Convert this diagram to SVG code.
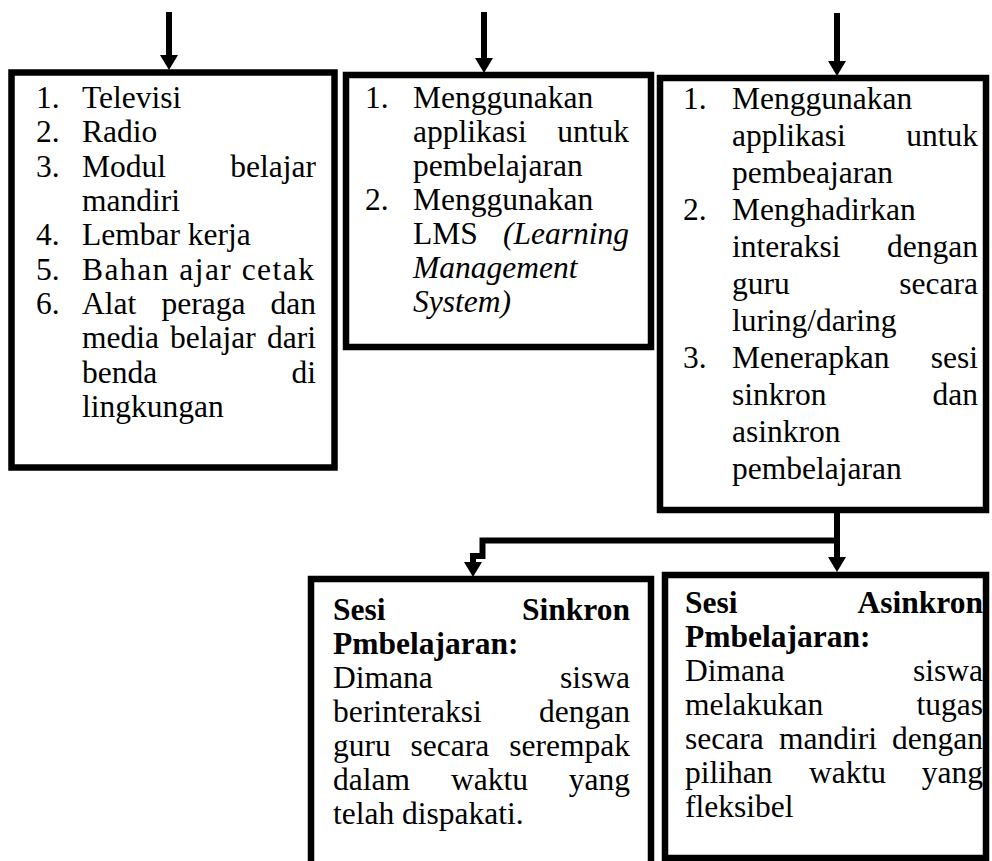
<svg xmlns="http://www.w3.org/2000/svg" width="992" height="861" viewBox="0 0 992 861">
<style>
.bx{fill:#fff;stroke:#000;stroke-width:6.5}
.t{font-family:"Liberation Serif","Times New Roman",serif;font-size:31.5px;fill:#000}
.b{font-weight:bold}
.i{font-style:italic}
.e{text-anchor:end}
.c{fill:none;stroke:#000;stroke-width:6}
</style>
<defs>
<marker id="ah" viewBox="0 0 15 18" markerWidth="15" markerHeight="18" refX="1" refY="9" orient="auto" markerUnits="userSpaceOnUse">
<path d="M0,0 L15,9 L0,18 z" fill="#000"/>
</marker>
</defs>
<rect width="992" height="861" fill="#fff"/>

<g id="box1">
<rect class="bx" x="11.5" y="72.5" width="323" height="395"/>
<g class="t">
<text x="36" y="108">1.</text><text x="82" y="108">Televisi</text>
<text x="36" y="142">2.</text><text x="82" y="142">Radio</text>
<text x="36" y="176.5">3.</text><text x="82" y="176.5">Modul</text><text x="316" y="176.5" class="e">belajar</text>
<text x="82" y="211">mandiri</text>
<text x="36" y="245">4.</text><text x="82" y="245">Lembar kerja</text>
<text x="36" y="279.5">5.</text><text x="82" y="279.5" textLength="232" lengthAdjust="spacing">Bahan ajar cetak</text>
<text x="36" y="314">6.</text><text x="82" y="314">Alat</text><text x="161.5" y="314">peraga</text><text x="316" y="314" class="e">dan</text>
<text x="82" y="348">media</text><text x="170" y="348">belajar</text><text x="316" y="348" class="e">dari</text>
<text x="82" y="382.5">benda</text><text x="316" y="382.5" class="e">di</text>
<text x="82" y="417">lingkungan</text>
</g>
</g>

<g id="box2">
<rect class="bx" x="346" y="75" width="305" height="272"/>
<g class="t">
<text x="365" y="108">1.</text><text x="413" y="108">Menggunakan</text>
<text x="413" y="142">applikasi</text><text x="629" y="142" class="e">untuk</text>
<text x="413" y="176">pembelajaran</text>
<text x="365" y="210">2.</text><text x="413" y="210">Menggunakan</text>
<text x="413" y="244">LMS</text><text x="629" y="244" class="e i">(Learning</text>
<text x="413" y="278" class="i">Management</text>
<text x="413" y="312" class="i">System)</text>
</g>
</g>

<g id="box3">
<rect class="bx" x="660" y="78" width="326" height="432"/>
<g class="t">
<text x="683" y="109">1.</text><text x="732" y="109">Menggunakan</text>
<text x="732" y="146">applikasi</text><text x="978" y="146" class="e">untuk</text>
<text x="732" y="183">pembeajaran</text>
<text x="683" y="220">2.</text><text x="732" y="220">Menghadirkan</text>
<text x="732" y="257">interaksi</text><text x="978" y="257" class="e">dengan</text>
<text x="732" y="294">guru</text><text x="978" y="294" class="e">secara</text>
<text x="732" y="331">luring/daring</text>
<text x="683" y="368">3.</text><text x="732" y="368">Menerapkan</text><text x="978" y="368" class="e">sesi</text>
<text x="732" y="405">sinkron</text><text x="978" y="405" class="e">dan</text>
<text x="732" y="442">asinkron</text>
<text x="732" y="479">pembelajaran</text>
</g>
</g>

<g id="box4">
<rect class="bx" x="311" y="579" width="340" height="300"/>
<g class="t">
<text x="333" y="620" class="b">Sesi</text><text x="630" y="620" class="e b">Sinkron</text>
<text x="333" y="654" class="b">Pmbelajaran:</text>
<text x="333" y="688">Dimana</text><text x="630" y="688" class="e">siswa</text>
<text x="333" y="722">berinteraksi</text><text x="630" y="722" class="e">dengan</text>
<text x="333" y="756">guru</text><text x="410.5" y="756">secara</text><text x="630" y="756" class="e">serempak</text>
<text x="333" y="790">dalam</text><text x="451" y="790">waktu</text><text x="630" y="790" class="e">yang</text>
<text x="333" y="824">telah dispakati.</text>
</g>
</g>

<g id="box5">
<rect class="bx" x="665" y="575" width="321" height="283"/>
<g class="t">
<text x="685" y="613" class="b">Sesi</text><text x="983" y="613" class="e b">Asinkron</text>
<text x="685" y="647" class="b">Pmbelajaran:</text>
<text x="685" y="681">Dimana</text><text x="983" y="681" class="e">siswa</text>
<text x="685" y="715">melakukan</text><text x="983" y="715" class="e">tugas</text>
<text x="685" y="749">secara</text><text x="779" y="749">mandiri</text><text x="983" y="749" class="e">dengan</text>
<text x="685" y="783">pilihan</text><text x="809" y="783">waktu</text><text x="983" y="783" class="e">yang</text>
<text x="685" y="817">fleksibel</text>
</g>
</g>

<g id="connectors">
<path class="c" d="M169,12 V56" marker-end="url(#ah)"/>
<path class="c" d="M484,12 V59" marker-end="url(#ah)"/>
<path class="c" d="M837,13 V62" marker-end="url(#ah)"/>
<path class="c" d="M837,510 V540.5 H482.5 V556 H473 V563" marker-end="url(#ah)"/>
<path class="c" d="M837,540 V558" marker-end="url(#ah)"/>
</g>
</svg>
